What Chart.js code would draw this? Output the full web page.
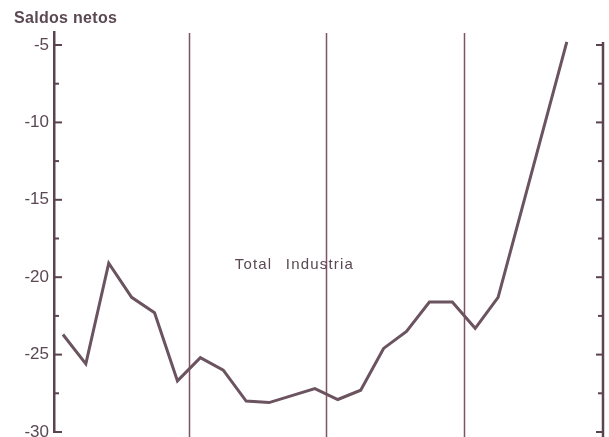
<!DOCTYPE html>
<html>
<head>
<meta charset="utf-8">
<script src="https://cdn.jsdelivr.net/npm/chart.js@4"></script>
<style>
  body { margin: 0; background: #fff; }
  #wrap { width: 609px; height: 437px; position: relative; }
</style>
</head>
<body>
<div id="wrap"><canvas id="chart"></canvas></div>
<script>
// bimonthly points, 6 per year, index 0..22 (gaps where no vertex is visible)
const periods = Array.from({ length: 23 }, (_, i) => i);
const saldos = [-23.7, -25.6, -19.1, -21.3, -22.3, -26.7, -25.2, -26.0, -28.0, -28.1, null,
  -27.2, -27.9, -27.3, -24.6, -23.5, -21.6, -21.6, -23.3, -21.3, null, null, -4.8];
const yearBreaks = [5.5, 11.5, 17.5];
const majorTicks = [-30, -25, -20, -15, -10, -5];
const minorTicks = [-27.5, -22.5, -17.5, -12.5, -7.5];

const ink = '#5c4350';
const textInk = '#5a4852';

const axesPlugin = {
  id: 'axesPlugin',
  beforeDatasetsDraw(chart) {
    const { ctx, chartArea, scales: { x } } = chart;
    ctx.save();
    ctx.strokeStyle = '#7e5465';
    ctx.lineWidth = 1.5;
    yearBreaks.forEach(v => {
      const px = Math.round(x.getPixelForValue(v)) + 0.5;
      ctx.beginPath();
      ctx.moveTo(px, chartArea.top + 1);
      ctx.lineTo(px, chart.height);
      ctx.stroke();
    });
    ctx.restore();
  },
  afterDraw(chart) {
    const { ctx, chartArea, scales: { x, y } } = chart;
    ctx.save();
    ctx.strokeStyle = ink;
    ctx.lineWidth = 2;
    // left axis ticks point inward
    const lx = chartArea.left;
    majorTicks.forEach(v => {
      const py = y.getPixelForValue(v);
      ctx.beginPath(); ctx.moveTo(lx, py); ctx.lineTo(lx + 8, py); ctx.stroke();
    });
    minorTicks.forEach(v => {
      const py = y.getPixelForValue(v);
      ctx.beginPath(); ctx.moveTo(lx, py); ctx.lineTo(lx + 5, py); ctx.stroke();
    });
    // right axis
    const rx = chartArea.right;
    ctx.lineWidth = 2.5;
    ctx.beginPath(); ctx.moveTo(rx, y.getPixelForValue(-4.8)); ctx.lineTo(rx, chart.height); ctx.stroke();
    ctx.lineWidth = 2;
    majorTicks.forEach(v => {
      const py = y.getPixelForValue(v);
      ctx.beginPath(); ctx.moveTo(rx, py); ctx.lineTo(rx - 7, py); ctx.stroke();
    });
    minorTicks.forEach(v => {
      const py = y.getPixelForValue(v);
      ctx.beginPath(); ctx.moveTo(rx, py); ctx.lineTo(rx - 5, py); ctx.stroke();
    });
    // texts
    ctx.fillStyle = textInk;
    ctx.textBaseline = 'alphabetic';
    ctx.textAlign = 'left';
    ctx.font = 'bold 16px "Liberation Sans"';
    ctx.letterSpacing = '0.3px';
    ctx.fillText('Saldos netos', 14, 23);
    ctx.font = '15px "Liberation Sans"';
    ctx.letterSpacing = '1.2px';
    ctx.wordSpacing = '8px';
    ctx.fillText('Total Industria', x.getPixelForValue(7.5), y.getPixelForValue(-19.5));
    ctx.restore();
  }
};

new Chart(document.getElementById('chart'), {
  type: 'line',
  data: {
    labels: periods,
    datasets: [{
      data: saldos,
      borderColor: '#6b5360',
      borderWidth: 3,
      pointRadius: 0,
      tension: 0,
      spanGaps: true,
      fill: false
    }]
  },
  options: {
    responsive: true,
    maintainAspectRatio: false,
    animation: false,
    layout: { padding: { top: 32, right: 6, bottom: 5, left: 0 } },
    plugins: { legend: { display: false }, tooltip: { enabled: false } },
    scales: {
      x: {
        type: 'linear',
        display: false,
        min: -0.39,
        max: 23.58
      },
      y: {
        min: -30,
        max: -4.16,
        afterFit(scale) {
          scale.width = 54;
          scale.paddingTop = 0;
          scale.paddingBottom = 0;
        },
        afterBuildTicks(scale) { scale.ticks = majorTicks.map(v => ({ value: v })); },
        grid: { display: false, drawTicks: false },
        border: { display: true, color: ink, width: 2.5 },
        ticks: {
          padding: 5,
          color: textInk,
          font: { family: 'Liberation Sans', size: 17 },
          callback: v => String(v)
        }
      }
    }
  },
  plugins: [axesPlugin]
});
</script>
</body>
</html>
